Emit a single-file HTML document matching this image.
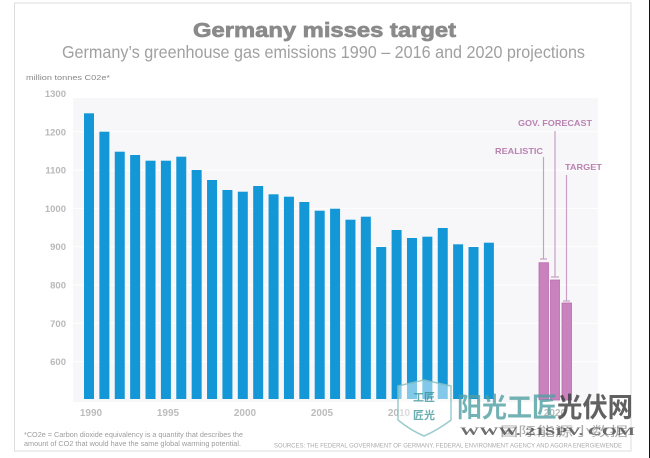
<!DOCTYPE html>
<html>
<head>
<meta charset="utf-8">
<style>
  html, body { margin: 0; padding: 0; background: #ffffff; }
  body { width: 650px; height: 458px; overflow: hidden; }
  svg { display: block; }
  .sans { font-family: "Liberation Sans", "Noto Sans CJK SC", sans-serif; }
</style>
</head>
<body>
<svg width="650" height="458" viewBox="0 0 650 458" xmlns="http://www.w3.org/2000/svg" class="sans">
  <!-- outer frame -->
  <rect x="0" y="0" width="650" height="458" fill="#ffffff"/>
  <rect x="14.5" y="3" width="616.5" height="448" fill="#ffffff" stroke="#dcdcdc" stroke-width="1"/>
  <line x1="649.5" y1="0" x2="649.5" y2="458" stroke="#111" stroke-width="1"/>

  <!-- plot background -->
  <rect x="73" y="98" width="525" height="304" fill="#f7f7f9"/>
  <g stroke="#ffffff" stroke-width="1">
    <line x1="73" y1="131.8" x2="598" y2="131.8"/>
    <line x1="73" y1="170.1" x2="598" y2="170.1"/>
    <line x1="73" y1="208.4" x2="598" y2="208.4"/>
    <line x1="73" y1="246.7" x2="598" y2="246.7"/>
    <line x1="73" y1="285" x2="598" y2="285"/>
    <line x1="73" y1="323.3" x2="598" y2="323.3"/>
    <line x1="73" y1="361.6" x2="598" y2="361.6"/>
  </g>

  <!-- titles -->
  <text x="193" y="37" font-size="20" font-weight="bold" fill="#8a8a8a" stroke="#8a8a8a" stroke-width="0.7" textLength="263" lengthAdjust="spacingAndGlyphs">Germany misses target</text>
  <text x="62" y="58" font-size="17.5" fill="#a0a0a0" textLength="523" lengthAdjust="spacingAndGlyphs">Germany’s greenhouse gas emissions 1990 – 2016 and 2020 projections</text>

  <text x="26" y="80" font-size="7.5" fill="#888" textLength="84" lengthAdjust="spacingAndGlyphs">million tonnes C02e*</text>

  <!-- y labels -->
  <g font-size="9.5" font-weight="bold" fill="#b8b8b8" text-anchor="end">
    <text x="66" y="97">1300</text>
    <text x="66" y="135.3">1200</text>
    <text x="66" y="173.6">1100</text>
    <text x="66" y="211.9">1000</text>
    <text x="66" y="250.2">900</text>
    <text x="66" y="288.5">800</text>
    <text x="66" y="326.8">700</text>
    <text x="66" y="365.1">600</text>
  </g>

  <!-- blue bars -->
  <g fill="#1497d6">
    <rect x="84" y="113.3" width="10" height="285.7"/>
    <rect x="99.38" y="131.7" width="10" height="267.3"/>
    <rect x="114.76" y="151.7" width="10" height="247.3"/>
    <rect x="130.14" y="155" width="10" height="244"/>
    <rect x="145.52" y="160.7" width="10" height="238.3"/>
    <rect x="160.9" y="160.7" width="10" height="238.3"/>
    <rect x="176.28" y="156.7" width="10" height="242.3"/>
    <rect x="191.66" y="170" width="10" height="229"/>
    <rect x="207.04" y="180" width="10" height="219"/>
    <rect x="222.42" y="190" width="10" height="209"/>
    <rect x="237.8" y="191.7" width="10" height="207.3"/>
    <rect x="253.18" y="186" width="10" height="213"/>
    <rect x="268.56" y="194.3" width="10" height="204.7"/>
    <rect x="283.94" y="196.7" width="10" height="202.3"/>
    <rect x="299.32" y="202" width="10" height="197"/>
    <rect x="314.7" y="210.7" width="10" height="188.3"/>
    <rect x="330.08" y="208.7" width="10" height="190.3"/>
    <rect x="345.46" y="219.7" width="10" height="179.3"/>
    <rect x="360.84" y="216.7" width="10" height="182.3"/>
    <rect x="376.22" y="247" width="10" height="152"/>
    <rect x="391.6" y="230" width="10" height="169"/>
    <rect x="406.98" y="238" width="10" height="161"/>
    <rect x="422.36" y="236.7" width="10" height="162.3"/>
    <rect x="437.74" y="228" width="10" height="171"/>
    <rect x="453.12" y="244.3" width="10" height="154.7"/>
    <rect x="468.5" y="247" width="10" height="152"/>
    <rect x="483.88" y="242.7" width="10" height="156.3"/>
  </g>

  <!-- pink projection bars -->
  <g fill="#c982bd" stroke="#b96cac" stroke-width="0.8">
    <rect x="539" y="262.7" width="9.5" height="137"/>
    <rect x="550.5" y="280" width="9" height="120"/>
    <rect x="562" y="303" width="9.5" height="97"/>
  </g>

  <!-- leader lines -->
  <g stroke="#c9a0c4" stroke-width="1.2" fill="none">
    <line x1="543.5" y1="157" x2="543.5" y2="259"/>
    <line x1="540" y1="259" x2="547" y2="259"/>
    <line x1="555" y1="131" x2="555" y2="277"/>
    <line x1="551" y1="277" x2="559" y2="277"/>
    <line x1="566.5" y1="175" x2="566.5" y2="301"/>
    <line x1="563" y1="301" x2="570" y2="301"/>
  </g>

  <!-- projection labels -->
  <g font-size="8.5" font-weight="bold" fill="#b982b1">
    <text x="518" y="126" textLength="74" lengthAdjust="spacingAndGlyphs">GOV. FORECAST</text>
    <text x="495" y="154" textLength="48" lengthAdjust="spacingAndGlyphs">REALISTIC</text>
    <text x="565" y="170" textLength="37" lengthAdjust="spacingAndGlyphs">TARGET</text>
  </g>

  <!-- x labels -->
  <g font-size="10" font-weight="bold" fill="#bcbcbc" text-anchor="middle">
    <text x="91" y="416">1990</text>
    <text x="168" y="416">1995</text>
    <text x="245" y="416">2000</text>
    <text x="322" y="416">2005</text>
    <text x="399" y="416">2010</text>
    <text x="555" y="416">2020</text>
  </g>

  <!-- footnote -->
  <g font-size="7" fill="#9c9c9c">
    <text x="24" y="437" textLength="219" lengthAdjust="spacingAndGlyphs">*CO2e = Carbon dioxide equivalency is a quantity that describes the</text>
    <text x="24" y="446" textLength="217" lengthAdjust="spacingAndGlyphs">amount of CO2 that would have the same global warming potential.</text>
  </g>
  <text x="274" y="447.5" font-size="6" fill="#ababab" textLength="348" lengthAdjust="spacingAndGlyphs">SOURCES: THE FEDERAL GOVERNMENT OF GERMANY, FEDERAL ENVIRONMENT AGENCY AND AGORA ENERGIEWENDE</text>

  <!-- watermark -->
  <g opacity="0.85">
    <path d="M398 386 L424 380 L451 386 L451 420 Q438 430 424 436 Q410 430 398 420 Z" fill="#ffffff" fill-opacity="0.55" stroke="#8cc3c4" stroke-width="1.5"/>
    <text x="424" y="401" font-size="11" font-weight="bold" fill="#4f9fa2" text-anchor="middle" font-family="'Noto Sans CJK SC', sans-serif">工匠</text>
    <text x="424" y="419" font-size="11" font-weight="bold" fill="#4f9fa2" text-anchor="middle" font-family="'Noto Sans CJK SC', sans-serif">匠光</text>
  </g>
  <g font-family="'Noto Sans CJK SC', 'WenQuanYi Zen Hei', sans-serif" font-size="27" font-weight="bold">
    <text x="457" y="417" fill="#4f9fa2" fill-opacity="0.8" textLength="100" lengthAdjust="spacingAndGlyphs">阳光工匠</text>
    <text x="557" y="417" fill="#3a3a3a" fill-opacity="0.8" textLength="76" lengthAdjust="spacingAndGlyphs">光伏网</text>
  </g>
  <text x="500" y="436" font-size="13" fill="#888" fill-opacity="0.7" textLength="128" lengthAdjust="spacingAndGlyphs" font-family="'Noto Sans CJK SC', sans-serif">国际能源小数据</text>
  <text x="460" y="435" font-size="12" font-weight="bold" fill="#555" fill-opacity="0.85" textLength="175" lengthAdjust="spacingAndGlyphs" font-family="'Liberation Serif', serif">WWW. 21SPV. COM</text>
</svg>
</body>
</html>
